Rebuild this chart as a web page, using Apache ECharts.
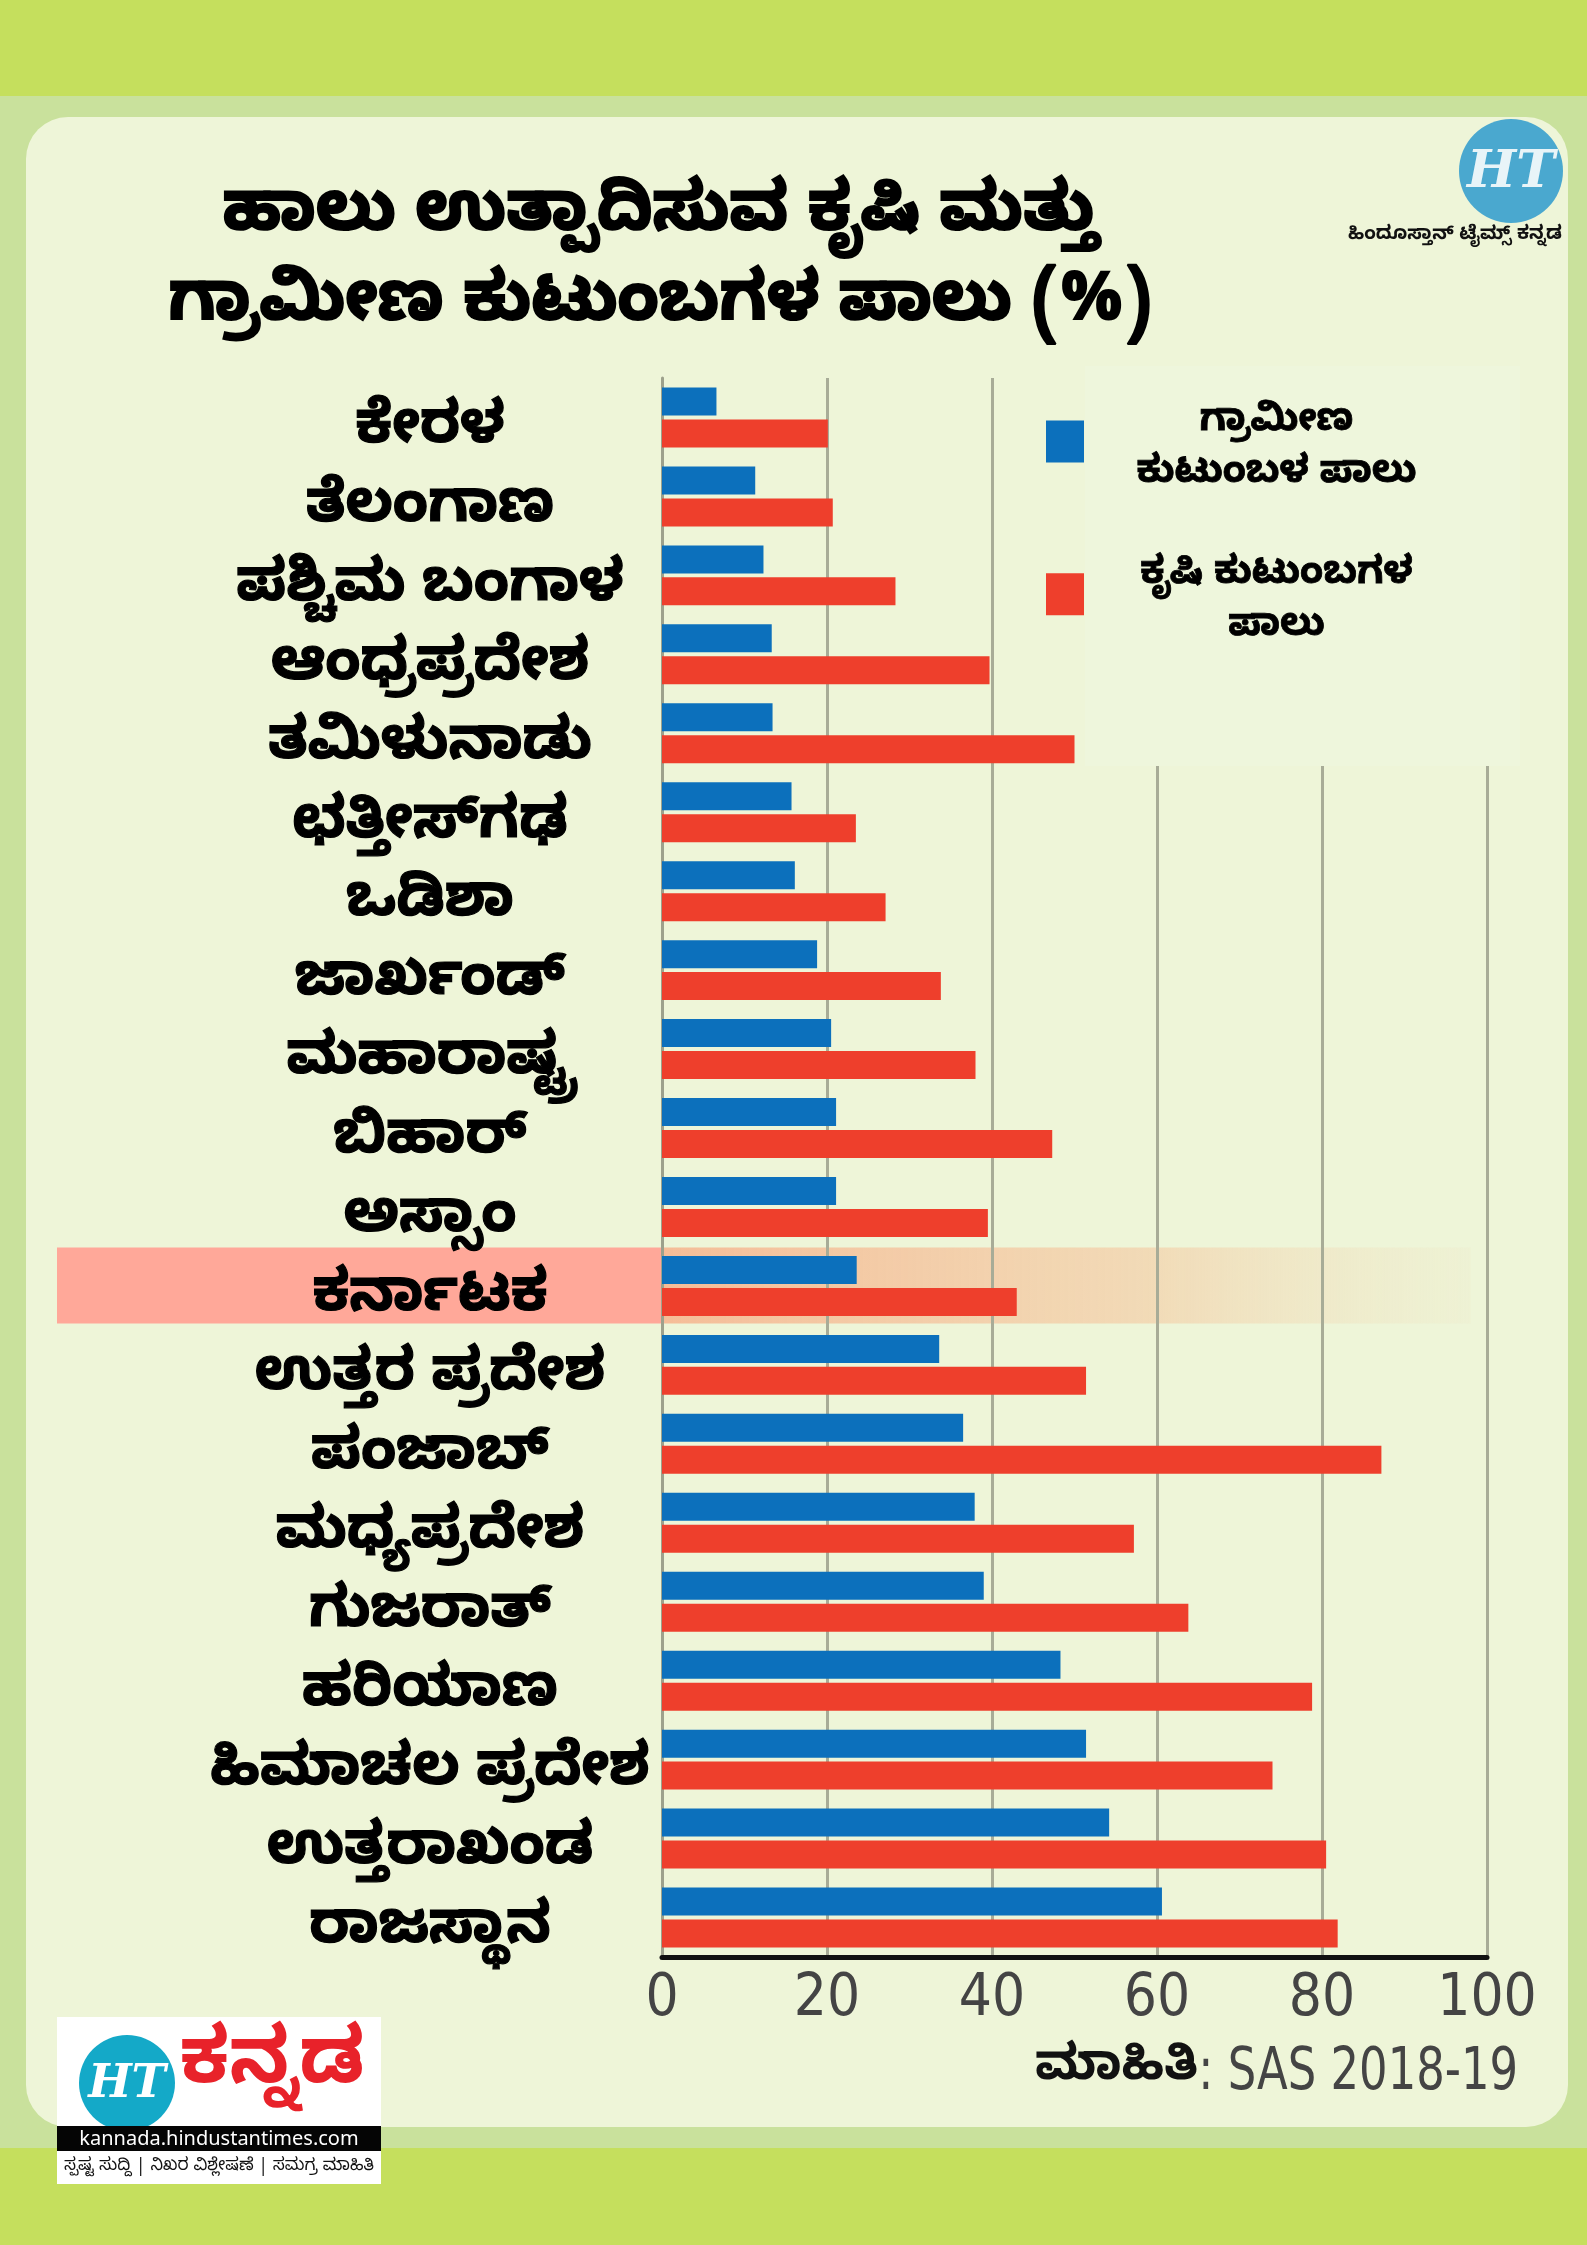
<!DOCTYPE html>
<html>
<head>
<meta charset="utf-8">
<script src="https://cdn.jsdelivr.net/npm/echarts@6/dist/echarts.min.js"></script>
<style>
  html, body { margin: 0; padding: 0; }
  body { width: 1587px; height: 2245px; background: #c5df5d; position: relative; overflow: hidden; }
  #frame { position: absolute; left: 0; top: 96px; width: 1587px; height: 2052px; background: #c9e19c; }
  #card { position: absolute; left: 26px; top: 117px; width: 1542px; height: 2010px; background: #eef5d8; border-radius: 42px; }
  #chart { position: absolute; left: 0; top: 0; width: 1587px; height: 2245px; }
</style>
</head>
<body>
<div id="frame"></div>
<div id="card"></div>
<div id="chart"></div>
<script>
// ---- data ----
const categories = ['ಕೇರಳ', 'ತೆಲಂಗಾಣ', 'ಪಶ್ಚಿಮ ಬಂಗಾಳ', 'ಆಂಧ್ರಪ್ರದೇಶ', 'ತಮಿಳುನಾಡು', 'ಛತ್ತೀಸ್‌ಗಢ', 'ಒಡಿಶಾ', 'ಜಾರ್ಖಂಡ್', 'ಮಹಾರಾಷ್ಟ್ರ', 'ಬಿಹಾರ್', 'ಅಸ್ಸಾಂ', 'ಕರ್ನಾಟಕ', 'ಉತ್ತರ ಪ್ರದೇಶ', 'ಪಂಜಾಬ್', 'ಮಧ್ಯಪ್ರದೇಶ', 'ಗುಜರಾತ್', 'ಹರಿಯಾಣ', 'ಹಿಮಾಚಲ ಪ್ರದೇಶ', 'ಉತ್ತರಾಖಂಡ', 'ರಾಜಸ್ಥಾನ'];
const ruralShare = [6.6, 11.3, 12.3, 13.3, 13.4, 15.7, 16.1, 18.8, 20.5, 21.1, 21.1, 23.6, 33.6, 36.5, 37.9, 39.0, 48.3, 51.4, 54.2, 60.6];
const agriShare = [20.1, 20.7, 28.3, 39.7, 50.0, 23.5, 27.1, 33.8, 38.0, 47.3, 39.5, 43.0, 51.4, 87.2, 57.2, 63.8, 78.8, 74.0, 80.5, 81.9];
const seriesNames = ['ಗ್ರಾಮೀಣ ಕುಟುಂಬಳ ಪಾಲು', 'ಕೃಷಿ ಕುಟುಂಬಗಳ ಪಾಲು'];
const legendLines = { 'ಗ್ರಾಮೀಣ ಕುಟುಂಬಳ ಪಾಲು': ['ಗ್ರಾಮೀಣ', 'ಕುಟುಂಬಳ ಪಾಲು'], 'ಕೃಷಿ ಕುಟುಂಬಗಳ ಪಾಲು': ['ಕೃಷಿ ಕುಟುಂಬಗಳ', 'ಪಾಲು'] };
const titleLines = ['ಹಾಲು ಉತ್ಪಾದಿಸುವ ಕೃಷಿ ಮತ್ತು', 'ಗ್ರಾಮೀಣ ಕುಟುಂಬಗಳ ಪಾಲು (%)'];
const highlightCategory = 'ಕರ್ನಾಟಕ';
const axisMin = 0, axisMax = 100, axisInterval = 20;
const sourceLabel = 'ಮಾಹಿತಿ';
const sourceText = ': SAS 2018-19';

const KN = '"Noto Sans Kannada", "Noto Sans", "Lohit Kannada", sans-serif';
const NARROW = '"Liberation Sans Narrow", "DejaVu Sans Condensed", "Liberation Sans", sans-serif';

const chart = echarts.init(document.getElementById('chart'), null, { renderer: 'canvas' });

const staticGraphics = [
  // title
  { type: 'text', id: 't1', z: 10, style: { text: titleLines[0], x: 660, y: 222, textAlign: 'center', textVerticalAlign: 'middle', font: 'bold 68px ' + KN, fill: '#000', stroke: '#000', lineWidth: 2 } },
  { type: 'text', id: 't2', z: 10, style: { text: titleLines[1], x: 660, y: 312, textAlign: 'center', textVerticalAlign: 'middle', font: 'bold 68px ' + KN, fill: '#000', stroke: '#000', lineWidth: 2 } },
  // HT top logo
  { type: 'circle', id: 'htc', z: 10, shape: { cx: 1511, cy: 171, r: 52 }, style: { fill: '#4aa8cf' } },
  { type: 'text', id: 'htt', z: 11, style: { text: 'HT', x: 1511, y: 173, textAlign: 'center', textVerticalAlign: 'middle', font: 'italic bold 52px "DejaVu Serif", serif', fill: '#e8f4f8' } },
  { type: 'text', id: 'htsub', z: 10, style: { text: 'ಹಿಂದೂಸ್ತಾನ್ ಟೈಮ್ಸ್ ಕನ್ನಡ', x: 1455, y: 237, textAlign: 'center', textVerticalAlign: 'middle', font: 'bold 19px ' + KN, fill: '#111' } },
  // legend box (covers upper gridlines)
  { type: 'rect', id: 'legbox', z: 1, shape: { x: 1085, y: 366, width: 435, height: 400 }, style: { fill: '#eef6dc' } },
  // source
  { type: 'text', id: 'srcK', z: 10, style: { text: sourceLabel, x: 1198, y: 2074, textAlign: 'right', textVerticalAlign: 'middle', font: 'bold 50px ' + KN, fill: '#111' } },
  { type: 'text', id: 'srcS', z: 10, x: 1518, y: 2074, scaleX: 0.86, style: { text: sourceText, x: 0, y: 0, textAlign: 'right', textVerticalAlign: 'middle', font: '58px ' + NARROW, fill: '#444' } },
  // bottom-left logo
  { type: 'rect', id: 'lb', z: 10, shape: { x: 57, y: 2017, width: 324, height: 167 }, style: { fill: '#ffffff' } },
  { type: 'circle', id: 'lbc', z: 11, shape: { cx: 127, cy: 2083, r: 48 }, style: { fill: '#14a9c8' } },
  { type: 'text', id: 'lbht', z: 12, style: { text: 'HT', x: 127, y: 2085, textAlign: 'center', textVerticalAlign: 'middle', font: 'italic bold 46px "DejaVu Serif", serif', fill: '#ffffff' } },
  { type: 'text', id: 'lbkn', z: 11, style: { text: 'ಕನ್ನಡ', x: 272, y: 2074, textAlign: 'center', textVerticalAlign: 'middle', font: 'bold 78px ' + KN, fill: '#e8222a' } },
  { type: 'rect', id: 'lbstrip', z: 11, shape: { x: 57, y: 2126, width: 324, height: 25 }, style: { fill: '#050505' } },
  { type: 'text', id: 'lburl', z: 12, style: { text: 'kannada.hindustantimes.com', x: 219, y: 2139, textAlign: 'center', textVerticalAlign: 'middle', font: '20px "Noto Sans", "DejaVu Sans", sans-serif', fill: '#ffffff' } },
  { type: 'text', id: 'lbtag', z: 12, style: { text: 'ಸ್ಪಷ್ಟ ಸುದ್ದಿ | ನಿಖರ ವಿಶ್ಲೇಷಣೆ | ಸಮಗ್ರ ಮಾಹಿತಿ', x: 219, y: 2168, textAlign: 'center', textVerticalAlign: 'middle', font: '17px ' + KN, fill: '#111' } }
];

const option = {
  backgroundColor: 'transparent',
  animation: false,
  grid: { left: 662, right: 100, top: 378, bottom: 288, containLabel: false },
  legend: {
    data: seriesNames,
    orient: 'vertical',
    left: 1041,
    top: 402,
    itemWidth: 38,
    itemHeight: 42,
    itemGap: 62,
    icon: 'rect',
    selectedMode: false,
    formatter: function (name) {
      const l = legendLines[name];
      return '{t|' + l[0] + '}\n{t|' + l[1] + '}';
    },
    textStyle: {
      padding: [22, 0, 0, 0],
      rich: { t: { width: 375, align: 'center', fontSize: 38, fontWeight: 'bold', lineHeight: 52, fontFamily: KN, color: '#000', textBorderColor: '#000', textBorderWidth: 0.8 } }
    }
  },
  xAxis: {
    type: 'value',
    min: axisMin, max: axisMax, interval: axisInterval,
    axisLine: { show: true, onZero: false, lineStyle: { color: '#111', width: 5 } },
    axisTick: { show: false },
    splitLine: { show: true, lineStyle: { color: '#a8ac97', width: 3 } },
    axisLabel: { fontSize: 58, fontFamily: NARROW, color: '#444', margin: 14 }
  },
  yAxis: {
    type: 'category',
    data: categories,
    inverse: true,
    axisLine: { show: true, lineStyle: { color: '#9da18c', width: 3 } },
    axisTick: { show: false },
    axisLabel: { fontSize: 58, fontWeight: 'bold', fontFamily: KN, color: '#000', align: 'center', verticalAlign: 'top', lineHeight: 37, margin: 232, textBorderColor: '#000', textBorderWidth: 1.2 }
  },
  series: [
    { name: seriesNames[0], type: 'bar', data: ruralShare, barWidth: 28, barGap: '14%', itemStyle: { color: '#0c70bc' }, z: 3 },
    { name: seriesNames[1], type: 'bar', data: agriShare, barWidth: 28, barGap: '14%', itemStyle: { color: '#ee3f2c' }, z: 3 }
  ],
  graphic: staticGraphics
};

chart.setOption(option);

// highlight band for the highlighted category, positioned through the axes
const yc = chart.convertToPixel({ yAxisIndex: 0 }, highlightCategory);
const x0 = chart.convertToPixel({ xAxisIndex: 0 }, axisMin);
const xEnd = chart.convertToPixel({ xAxisIndex: 0 }, 98);
const band = (2245 - 378 - 288) / categories.length;
chart.setOption({
  graphic: [
    { type: 'rect', id: 'hlLeft', z: -1, shape: { x: 57, y: yc - band / 2 + 1, width: x0 - 57, height: band - 3 }, style: { fill: '#ffa899' } },
    { type: 'rect', id: 'hlRight', z: -1, shape: { x: x0, y: yc - band / 2 + 1, width: xEnd - x0, height: band - 3 },
      style: { fill: new echarts.graphic.LinearGradient(0, 0, 1, 0, [
        { offset: 0, color: 'rgba(246,178,140,0.85)' },
        { offset: 0.6, color: 'rgba(244,200,160,0.6)' },
        { offset: 1, color: 'rgba(240,225,190,0.15)' }
      ]) } }
  ]
});
</script>
</body>
</html>
